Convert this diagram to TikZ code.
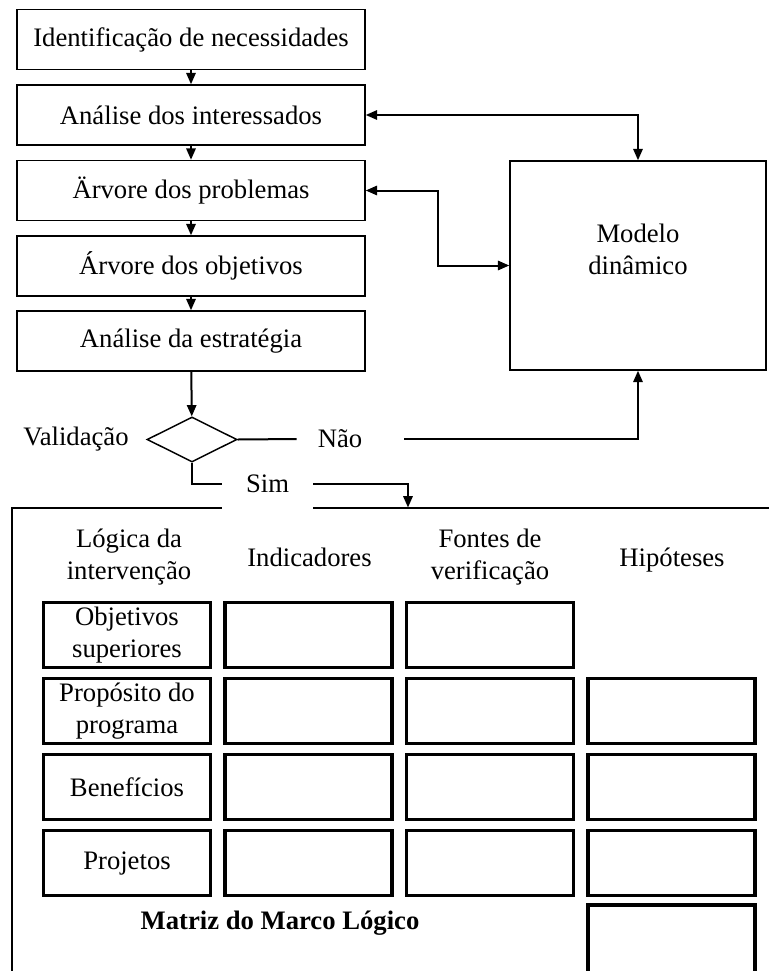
\documentclass[tikz,border=0pt]{standalone}
\usepackage{fontspec}
\setmainfont{Liberation Serif}
\usetikzlibrary{arrows.meta,shapes.geometric}

\tikzset{
  stepbox/.style={draw, line width=1.1pt, minimum width=261pt, minimum height=45pt, inner sep=0pt},
  cellbox/.style={draw, line width=2.6pt, minimum width=125pt, minimum height=49pt, align=center, inner sep=0pt},
  conn/.style={line width=1.5pt},
  arr/.style={conn, -{Triangle[length=8.5pt,width=7pt]}},
  arrboth/.style={conn, {Triangle[length=8.5pt,width=7pt]}-{Triangle[length=8.5pt,width=7pt]}},
}

\begin{document}
\begin{tikzpicture}[x=0.75pt, y=-0.75pt, font=\fontsize{20}{24}\selectfont]
    \useasboundingbox (0,0) rectangle (769,971);

    % etapas
    \node[stepbox] (s1) at (191,39.5) {Identificação de necessidades};
    \node[stepbox] (s2) at (191,115) {Análise dos interessados};
    \node[stepbox] (s3) at (191,190.5) {Ärvore dos problemas};
    \node[stepbox] (s4) at (191,266) {Árvore dos objetivos};
    \node[stepbox] (s5) at (191,341) {Análise da estratégia};
    \foreach \a/\b in {s1/s2,s2/s3,s3/s4,s4/s5}
        \draw[arr] (\a) -- (\b);

    % modelo
    \node[draw, line width=1.1pt, minimum width=192pt, minimum height=156.75pt, inner sep=0pt] (modelo) at (638,265.5) {};
    \node[align=center] (modtxt) at (638,249.5) {Modelo\\dinâmico};
    \draw[arrboth] (s2.east) -| (modelo.north);
    \draw[arrboth] (s3.east) -- ++(72,0) |- (modelo.west);

    % validacao
    \node[draw, diamond, minimum width=67.5pt, minimum height=33.75pt, inner sep=0pt, line width=1.1pt] (val) at (192,439.5) {};
    \node (valtxt) at (76,439) {Validação};
    \draw[arr] (s5) -- (val);
    \node[minimum width=64.5pt, inner sep=0pt] (nao) at (340,439) {Não};
    \draw[conn] (val.east) -- (nao.west);
    \draw[arr] ([xshift=15.75pt]nao.east) -| (modelo.south);
    \node[minimum width=68.25pt, inner sep=0pt] (sim) at (267.5,484) {Sim};
    \coordinate (mtop) at (408,507.5);
    \draw[conn] (val.south) |- (sim.west);
    \draw[arr] (sim.east) -| (mtop);

    % matriz
    \draw[line width=1.1pt] (12,971) -- (12,508) -- (222,508);
    \draw[line width=1.1pt] (313,508) -- (769,508);
    \node[align=center] (hlog) at (129,557) {Lógica da\\intervenção};
    \node (hind) at (309.5,557) {Indicadores};
    \node[align=center] (hfon) at (490,557) {Fontes de\\verificação};
    \node (hhip) at (672,560) {Hipóteses};
    \foreach \r/\t in {1/{Objetivos\\superiores}, 2/{Propósito do\\programa}, 3/Benefícios, 4/Projetos}
        \node[cellbox] (c\r1) at (127, {635+76*(\r-1)}) {\t};
    \foreach \c in {2,3}
        \foreach \r in {1,...,4}
            \node[cellbox] (c\r\c) at ({127+181.5*(\c-1)}, {635+76*(\r-1)}) {};
    \foreach \r in {2,...,4}
        \node[cellbox] (c\r4) at (671.5, {635+76*(\r-1)}) {};
    \node[cellbox, minimum height=60pt] (c54) at (671.5,945) {};
    \node[font=\fontsize{20}{24}\selectfont\bfseries] (mtit) at (280,923) {Matriz do Marco Lógico};
\end{tikzpicture}
\end{document}
